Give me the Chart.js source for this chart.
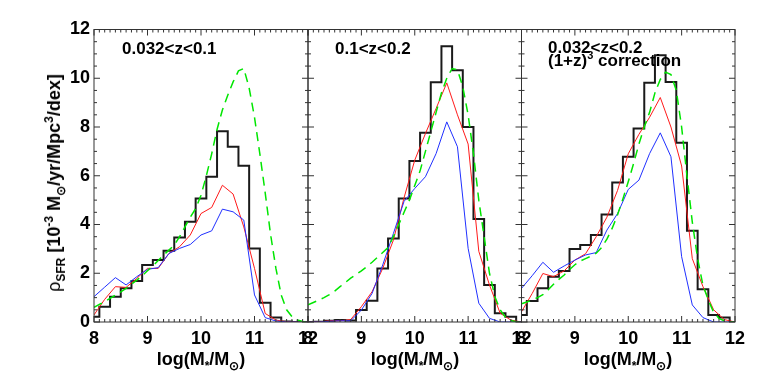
<!DOCTYPE html>
<html><head><meta charset="utf-8">
<script src="https://cdn.jsdelivr.net/npm/chart.js@4.4.1/dist/chart.umd.min.js"></script>
<style>
html,body{margin:0;padding:0;background:#fff;}
#wrap{position:relative;width:763px;height:382px;overflow:hidden;font-family:"Liberation Sans",Arial,sans-serif;background:#fff;}
#wrap canvas{position:absolute;left:0;top:0;}
.t{position:absolute;white-space:nowrap;font-weight:bold;font-size:17px;line-height:17px;color:#000;}
.t sub,.t sup{font-size:11px;line-height:0;}
.ax{font-size:18px;line-height:18px;}
.ax sub,.ax sup{font-size:12px;}
.xt{transform:translateX(-50%);}
#ytitle{transform:translate(-50%,-50%) rotate(-90deg);}
</style></head><body>
<div id="wrap">
<canvas id="c1" width="763" height="382"></canvas>
<canvas id="c2" width="763" height="382"></canvas>
<canvas id="c3" width="763" height="382"></canvas>
<div class="t" style="left:122px;top:39.5px">0.032&lt;z&lt;0.1</div>
<div class="t" style="left:335px;top:40px">0.1&lt;z&lt;0.2</div>
<div class="t" style="left:548px;top:38.9px">0.032&lt;z&lt;0.2</div>
<div class="t" style="left:548px;top:51.5px">(1+z)<sup>3</sup> correction</div>
<div class="t ax xt" style="left:201px;top:350px">log(M<sub>*</sub>/M<sub>&#8857;</sub>)</div>
<div class="t ax xt" style="left:415px;top:350px">log(M<sub>*</sub>/M<sub>&#8857;</sub>)</div>
<div class="t ax xt" style="left:628px;top:350px">log(M<sub>*</sub>/M<sub>&#8857;</sub>)</div>
<div class="t ax" id="ytitle" style="left:54px;top:183px"><span style="font-weight:normal">&#961;</span><sub>SFR</sub> [10<sup>-3</sup> M<sub>&#8857;</sub>/yr/Mpc<sup>3</sup>/dex]</div>
</div>
<script>
// ---- data ----
const massBins = [8.0,8.2,8.4,8.6,8.8,9.0,9.2,9.4,9.6,9.8,10.0,10.2,10.4,10.6,10.8,11.0,11.2,11.4,11.6,11.8,12.0];
const smoothMass = [8.0,8.1,8.2,8.3,8.4,8.5,8.6,8.7,8.8,8.9,9.0,9.1,9.2,9.3,9.4,9.5,9.6,9.7,9.8,9.9,10.0,10.1,10.2,10.3,10.4,10.5,10.6,10.7,10.8,10.9,11.0,11.1,11.2,11.3,11.4,11.5,11.6,11.7,11.8,11.9,12.0];
const xTickValues = [8,9,10,11,12];
const yTickValues = [0,2,4,6,8,10,12];

// panel 1: 0.032<z<0.1
const black1 = [0.22,0.63,1.04,1.38,1.68,2.34,2.54,2.92,3.47,4.11,5.07,5.96,7.83,7.19,6.41,3.02,0.79,0.18,0.02,0,0];
const red1   = [0.29,0.93,1.45,1.42,1.79,2.2,2.2,2.81,3.09,3.57,4.45,4.7,5.61,5.25,3.9,2.2,0.35,0.08,0.01,0,0];
const blue1  = [1.04,1.43,1.82,1.52,1.86,2.16,2.23,2.81,3.02,3.18,3.57,3.74,4.63,4.52,4.18,1.11,0.18,0.04,0,0,0];
const green1 = [0.6,0.72,0.84,0.97,1.1,1.24,1.38,1.55,1.72,1.9,2.1,2.3,2.52,2.74,2.95,3.15,3.5,3.9,4.3,4.65,5.2,6.0,6.9,7.9,8.7,9.3,9.85,10.3,10.4,9.6,8.4,6.9,5.3,3.6,2.2,1.1,0.5,0.22,0.08,0.02,0];

// panel 2: 0.1<z<0.2
const black2 = [0,0.01,0.05,0.08,0.06,0.49,0.87,2.2,3.43,5.07,6.61,7.76,9.84,11.31,10.33,8.0,4.23,1.52,0.36,0.22,0];
const red2   = [0,0,0.05,0.05,0.1,0.63,1.24,2.2,3.36,5.1,6.64,7.73,8.76,9.81,8.5,7.3,2.9,1.52,0.36,0.08,0];
const blue2  = [0,0,0.03,0.05,0.05,0.49,1.17,2.34,3.63,4.95,5.48,5.96,6.91,8.21,7.19,3.02,0.77,0.15,0,0,0];
const green2 = [0.7,0.8,0.9,1.0,1.12,1.27,1.45,1.62,1.8,1.95,2.1,2.27,2.45,2.65,2.85,3.05,3.5,4.0,4.5,5.0,5.6,6.2,7.0,7.8,8.6,9.4,10.0,10.4,10.35,9.65,8.5,6.9,5.0,3.5,2.0,1.05,0.5,0.2,0.06,0.01,0];

// panel 3: 0.032<z<0.2, (1+z)^3 correction
const black3 = [0.29,0.86,1.38,1.86,2.09,2.99,3.16,3.57,4.41,5.72,6.78,7.94,9.82,10.94,9.85,7.35,3.74,1.34,0.29,0.18,0];
const red3   = [0.42,1.17,1.99,1.86,2.1,2.54,2.8,3.5,4.3,5.4,6.9,7.7,8.4,9.21,8.0,6.4,2.6,1.45,0.5,0.1,0];
const blue3  = [1.38,1.9,2.45,2.04,2.3,2.54,2.75,2.85,3.77,4.45,5.44,5.82,6.91,7.76,6.78,2.68,0.7,0.18,0,0,0];
const green3 = [0.75,0.82,0.9,1.0,1.12,1.32,1.55,1.75,1.93,2.15,2.35,2.5,2.6,2.7,2.82,3.05,3.4,3.85,4.4,5.05,5.75,6.5,7.3,8.0,8.6,9.4,9.95,10.25,10.15,9.5,8.0,6.0,4.1,2.6,1.5,0.9,0.4,0.15,0.05,0.01,0];

// ---- drawing ----
const FONT = '"Liberation Sans", Arial, sans-serif';
const W = 763, H = 382, TOP = 29.5, BOTTOM = 322;

const framePlugin = {
  id: 'idlFrame',
  afterDatasetsDraw(chart) {
    const {ctx, chartArea: a, scales} = chart;
    const x = scales.x, y = scales.y;
    ctx.save();
    ctx.strokeStyle = '#333';
    ctx.lineWidth = 1;
    ctx.strokeRect(a.left, a.top, a.right - a.left, a.bottom - a.top);
    ctx.beginPath();
    for (let i = 0; i <= 40; i++) {
      const px = x.getPixelForValue(x.min + i * 0.1);
      const L = (i % 10 === 0) ? 6 : 3;
      ctx.moveTo(px, a.bottom); ctx.lineTo(px, a.bottom - L);
      ctx.moveTo(px, a.top); ctx.lineTo(px, a.top + L);
    }
    for (let i = 0; i <= 24; i++) {
      const py = y.getPixelForValue(y.min + i * 0.5);
      const L = (i % 4 === 0) ? 6 : 3;
      ctx.moveTo(a.left, py); ctx.lineTo(a.left + L, py);
      ctx.moveTo(a.right, py); ctx.lineTo(a.right - L, py);
    }
    ctx.stroke();
    ctx.restore();
  }
};

function pts(xs, ys) { return xs.map((v, i) => ({x: v, y: ys[i]})); }

const panels = [
  {id: 'c1', left: 94,    right: 308,   showY: true,  black: black1, red: red1, blue: blue1, green: green1},
  {id: 'c2', left: 308,   right: 521.5, showY: false, black: black2, red: red2, blue: blue2, green: green2},
  {id: 'c3', left: 521.5, right: 735,   showY: false, black: black3, red: red3, blue: blue3, green: green3}
];

panels.forEach(p => {
  new Chart(document.getElementById(p.id), {
    type: 'line',
    data: {
      datasets: [
        {data: pts(smoothMass, p.green), borderColor: '#00e600', borderWidth: 1.5, borderDash: [9, 6], pointRadius: 0, tension: 0, fill: false},
        {data: pts(massBins, p.blue), borderColor: '#2030ff', borderWidth: 1, pointRadius: 0, tension: 0, fill: false},
        {data: pts(massBins, p.red), borderColor: '#ff1a1a', borderWidth: 1, pointRadius: 0, tension: 0, fill: false},
        {data: pts(massBins, p.black), borderColor: '#1a1a1a', borderWidth: 2, pointRadius: 0, stepped: 'middle', fill: false}
      ]
    },
    options: {
      responsive: false,
      animation: false,
      devicePixelRatio: 1,
      layout: {padding: {left: p.showY ? 0 : p.left, right: W - p.right, top: TOP, bottom: H - BOTTOM - 40}},
      plugins: {legend: {display: false}, tooltip: {enabled: false}, title: {display: false}},
      scales: {
        x: {
          type: 'linear', min: 8, max: 12,
          afterBuildTicks: s => { s.ticks = xTickValues.map(v => ({value: v})); },
          afterFit: s => { s.height = 40; },
          grid: {display: false, drawTicks: false},
          border: {display: false},
          ticks: {font: {family: FONT, size: 18, weight: 'bold'}, color: '#000', padding: 6, maxRotation: 0, autoSkip: false}
        },
        y: {
          type: 'linear', min: 0, max: 12,
          display: p.showY,
          afterBuildTicks: s => { s.ticks = yTickValues.map(v => ({value: v})); },
          afterFit: s => { if (p.showY) s.width = p.left; },
          grid: {display: false, drawTicks: false},
          border: {display: false},
          ticks: {font: {family: FONT, size: 18, weight: 'bold'}, color: '#000', padding: 4, autoSkip: false}
        }
      }
    },
    plugins: [framePlugin]
  });
});
</script>
</body></html>
